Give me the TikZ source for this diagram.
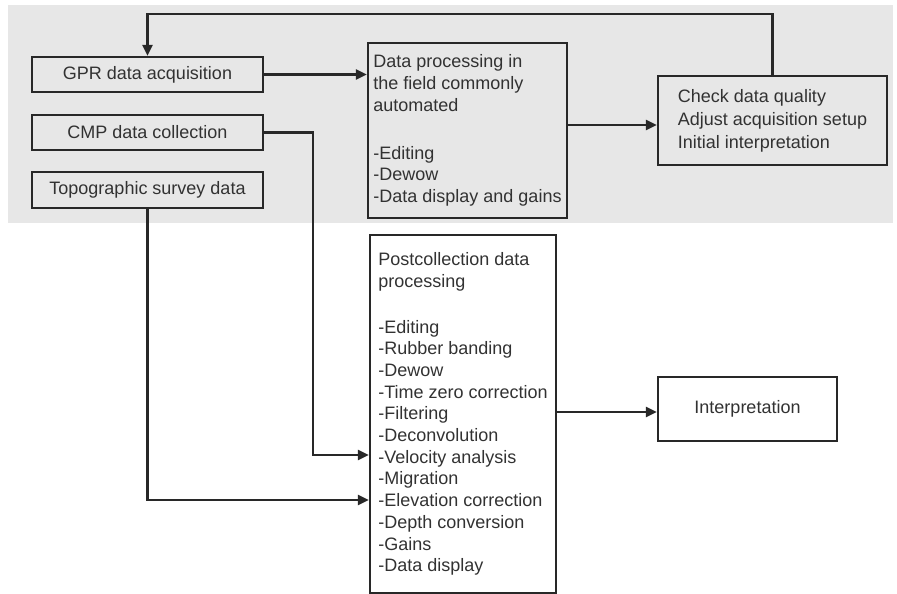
\documentclass[tikz,border=0pt]{standalone}
\usepackage{fontspec}
\setmainfont{Liberation Sans}
\usetikzlibrary{arrows.meta}
\definecolor{bandgray}{RGB}{231,231,231}
\definecolor{linecol}{RGB}{40,40,40}
\definecolor{textcol}{RGB}{50,50,50}
\tikzset{
  box/.style={draw=linecol, line width=2.2pt, text=textcol, inner sep=0pt,
    font=\fontsize{18}{21.7}\selectfont},
  arr/.style={draw=linecol, line width=2.2pt, -{Triangle[length=11pt,width=10pt]}},
}
\begin{document}
\begin{tikzpicture}[x=1pt,y=-1pt]
\useasboundingbox (0,0) rectangle (897,594);
\fill[bandgray] (8,5) rectangle (893,223);

% left input boxes
\node[box, minimum width=231pt, minimum height=35pt] (gpr) at (147.5,74.5) {GPR data acquisition};
\node[box, minimum width=231pt, minimum height=35pt] (cmp) at (147.5,132.5) {CMP data collection};
\node[box, minimum width=231pt, minimum height=36pt] (topo) at (147.5,190) {Topographic survey data};

% field processing
\node[box, minimum width=199pt, minimum height=175pt, align=left] (dp) at (467.5,130.5)
  {Data processing in\\the field commonly\\automated\\[26pt]-Editing\\-Dewow\\-Data display and gains};

% check
\node[box, font=\fontsize{18}{23}\selectfont, minimum width=229pt, minimum height=89pt, align=left] (check) at (772.5,120.5)
  {Check data quality\\Adjust acquisition setup\\Initial interpretation};

% postcollection
\node[box, minimum width=186pt, minimum height=358pt, align=left] (post) at (463,414)
  {Postcollection data\\processing\\[24pt]-Editing\\-Rubber banding\\-Dewow\\-Time zero correction\\-Filtering\\-Deconvolution\\-Velocity analysis\\-Migration\\-Elevation correction\\-Depth conversion\\-Gains\\-Data display};

% interpretation
\node[box, fill=white, minimum width=179pt, minimum height=64pt] (interp) at (747.5,409) {Interpretation};

% helper coordinates
\coordinate (top) at (460,14);
\coordinate (c1) at (610,125);
\coordinate (cmpturn) at (313,132.5);
\coordinate (vel) at (370,455);
\coordinate (elev) at (370,500);
\coordinate (c2) at (600,412);

% connectors
\draw[arr] (check.north) |- (top) -| (gpr.north);
\draw[arr] (gpr.east) -- (gpr.east -| dp.west);
\draw[arr] (dp.east |- c1) -- (check.west |- c1);
\draw[arr] (cmp.east) -- (cmpturn) |- (post.west |- vel);
\draw[arr] (topo.south) |- (post.west |- elev);
\draw[arr] (post.east |- c2) -- (interp.west |- c2);
\end{tikzpicture}
\end{document}
